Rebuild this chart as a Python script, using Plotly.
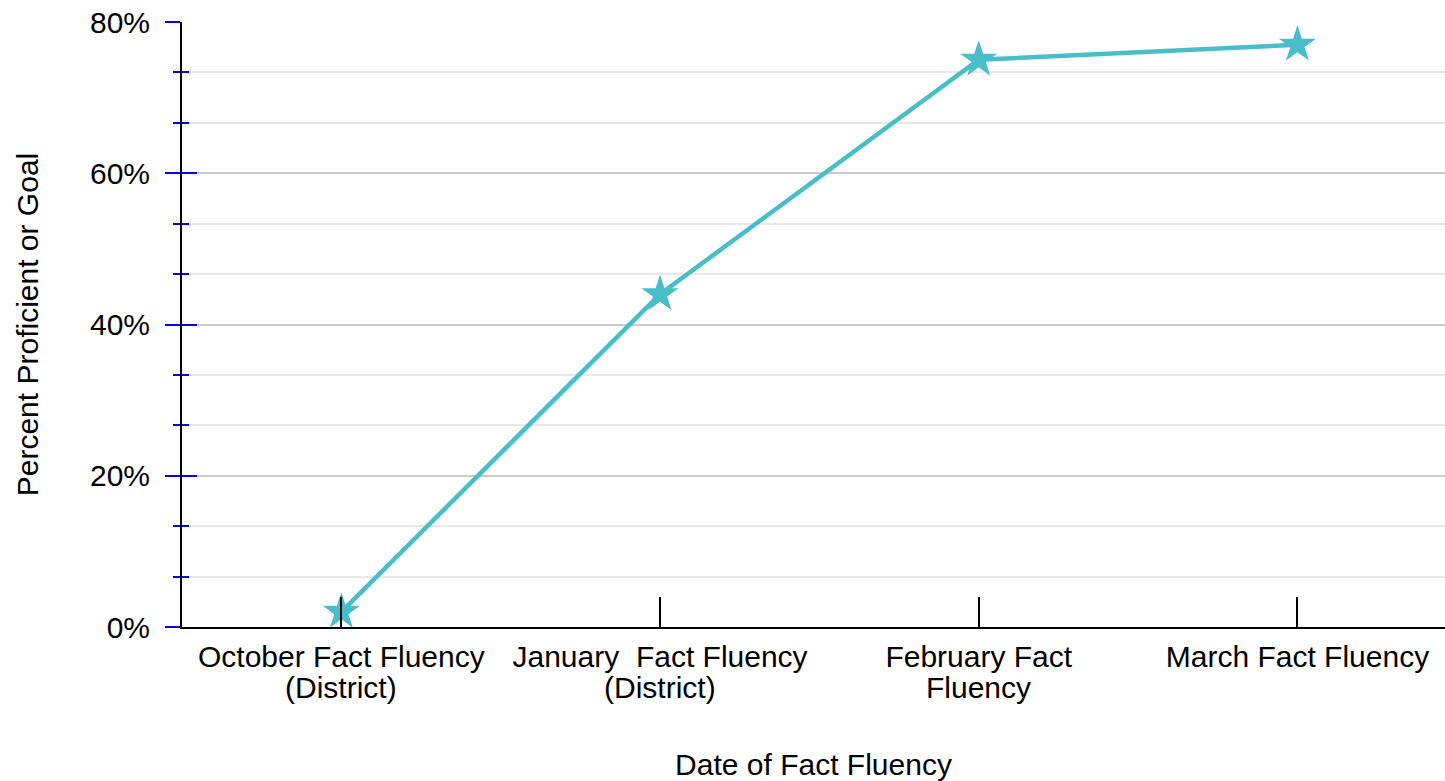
import plotly.graph_objects as go

categories = ["October Fact Fluency<br>(District)",
              "January\u00a0\u00a0Fact Fluency<br>(District)",
              "February Fact<br>Fluency",
              "March Fact Fluency"]
values = [0.02, 0.44, 0.75, 0.77]
y_tick_vals = [0, 0.2, 0.4, 0.6, 0.8]
y_tick_text = ["0%", "20%", "40%", "60%", "80%"]

FONT = "Liberation Sans, Arial, Helvetica, sans-serif"
LINE_COLOR = "#48bfc8"
FS = 30

first_lines = [c.split("<br>")[0] for c in categories]
second_lines = [c.split("<br>")[1] if "<br>" in c else "" for c in categories]

fig = go.Figure()
fig.add_trace(go.Scatter(
    x=categories, y=values, mode="lines+markers",
    line=dict(color=LINE_COLOR, width=4.5),
    marker=dict(symbol="star", size=28, color=LINE_COLOR, line=dict(width=0)),
    showlegend=False, cliponaxis=False,
))
# invisible trace for the inside-tick overlay axis
fig.add_trace(go.Scatter(x=categories, y=values, yaxis="y2", mode="markers",
                         marker=dict(opacity=0), showlegend=False, hoverinfo="skip"))

# second lines of the category labels (tighter line spacing than plotly's default)
for cat, txt in zip(categories, second_lines):
    if txt:
        fig.add_annotation(x=cat, xref="x", y=0, yref="paper", text=txt,
                           showarrow=False, yanchor="middle", yshift=-60,
                           font=dict(family=FONT, size=FS, color="black"))

yr = [0, 0.8]
fig.update_layout(
    width=1445, height=781,
    margin=dict(l=182, r=0, t=22, b=154),
    plot_bgcolor="white", paper_bgcolor="white",
    font=dict(family=FONT, size=FS, color="black"),
    xaxis=dict(
        type="category", range=[-0.5, 3.463],
        tickmode="array", tickvals=categories, ticktext=first_lines,
        showline=True, linecolor="black", linewidth=2,
        ticks="inside", ticklen=30, tickwidth=2, tickcolor="black",
        showgrid=False, zeroline=False, ticklabelstandoff=2,
        tickfont=dict(size=FS),
        title=dict(text="Date of Fact Fluency", font=dict(size=FS), standoff=83),
    ),
    yaxis=dict(
        range=yr, tickvals=y_tick_vals, ticktext=y_tick_text,
        showline=True, linecolor="black", linewidth=2,
        ticks="outside", ticklen=15, tickwidth=2, tickcolor="blue",
        showgrid=True, gridcolor="#cccccc", gridwidth=2,
        minor=dict(dtick=0.2/3, ticks="outside", ticklen=7, tickwidth=2,
                   tickcolor="blue", showgrid=True, gridcolor="#e8e8e8", gridwidth=2),
        zeroline=False, ticklabelstandoff=9,
        tickfont=dict(size=FS),
        title=dict(text="Percent Proficient or Goal", font=dict(size=FS), standoff=42),
    ),
    yaxis2=dict(
        range=yr, overlaying="y", side="left", anchor="x",
        tickvals=y_tick_vals, showticklabels=False,
        ticks="inside", ticklen=15, tickwidth=2, tickcolor="blue",
        minor=dict(dtick=0.2/3, ticks="inside", ticklen=7, tickwidth=2, tickcolor="blue", showgrid=False),
        showgrid=False, zeroline=False, showline=False,
    ),
)

fig.write_html("out.html")
